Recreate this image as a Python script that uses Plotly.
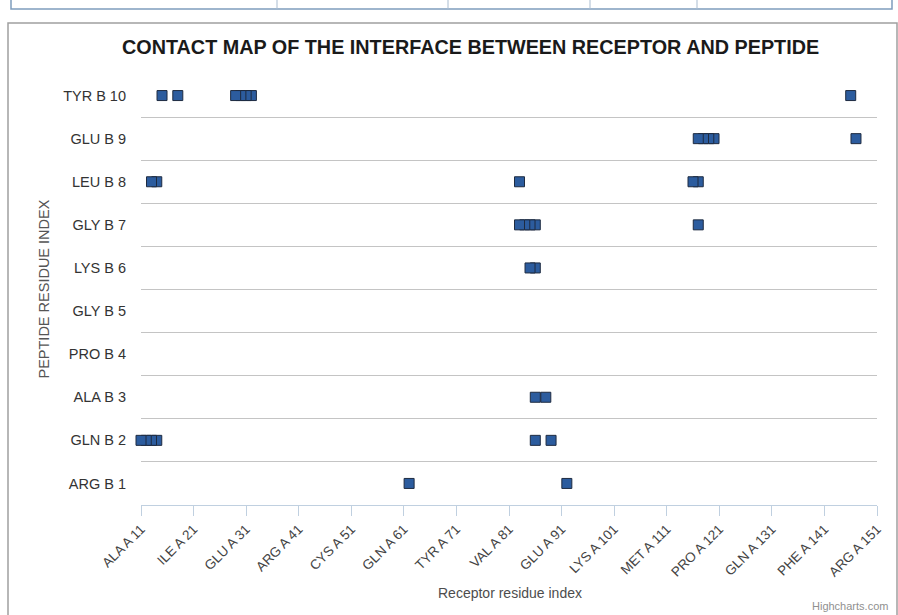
import plotly.graph_objects as go

# Peptide residues (rows, bottom to top)
peptide_labels = ["ARG B 1", "GLN B 2", "ALA B 3", "PRO B 4", "GLY B 5",
                  "LYS B 6", "GLY B 7", "LEU B 8", "GLU B 9", "TYR B 10"]

# Receptor axis ticks
receptor_tick_nums = [11, 21, 31, 41, 51, 61, 71, 81, 91, 101, 111, 121, 131, 141, 151]
receptor_tick_labels = ["ALA A 11", "ILE A 21", "GLU A 31", "ARG A 41", "CYS A 51",
                        "GLN A 61", "TYR A 71", "VAL A 81", "GLU A 91", "LYS A 101",
                        "MET A 111", "PRO A 121", "GLN A 131", "PHE A 141", "ARG A 151"]

# Receptor residues in contact with each peptide residue
contacts_arg_b1 = [62, 92]
contacts_gln_b2 = [11, 12, 13, 14, 86, 89]
contacts_ala_b3 = [86, 88]
contacts_pro_b4 = []
contacts_gly_b5 = []
contacts_lys_b6 = [85, 86]
contacts_gly_b7 = [83, 84, 85, 86, 117]
contacts_leu_b8 = [13, 14, 83, 116, 117]
contacts_glu_b9 = [117, 118, 119, 120, 147]
contacts_tyr_b10 = [15, 18, 29, 30, 31, 32, 146]

contact_rows = [contacts_arg_b1, contacts_gln_b2, contacts_ala_b3, contacts_pro_b4,
                contacts_gly_b5, contacts_lys_b6, contacts_gly_b7, contacts_leu_b8,
                contacts_glu_b9, contacts_tyr_b10]

xs, ys = [], []
for row_idx, residues in enumerate(contact_rows):
    for r in sorted(residues, reverse=True):
        xs.append(r)
        ys.append(row_idx + 1)

# Page geometry (pixels)
W, H = 898, 615
PL, PR, PT, PB = 141, 877, 74, 505
pw, ph = PR - PL, PB - PT


def px(x):
    return (x - PL) / pw


def py(y):
    return (PB - y) / ph


FONT = "Liberation Sans, Arial, sans-serif"

fig = go.Figure()
fig.add_trace(go.Scatter(
    x=xs, y=ys, mode="markers",
    marker=dict(symbol="square", size=10, color="#2C5C9E",
                line=dict(color="#1E2B40", width=1)),
    cliponaxis=False, showlegend=False,
    hovertemplate="%{x}<extra></extra>",
))

fig.update_layout(
    width=W, height=H,
    margin=dict(l=PL, r=W - PR, t=PT, b=H - PB, pad=0),
    paper_bgcolor="white", plot_bgcolor="white",
    font=dict(family=FONT),
    xaxis=dict(
        range=[11, 151], tickmode="array", tickvals=receptor_tick_nums,
        ticktext=receptor_tick_labels, tickangle=-45,
        ticks="outside", ticklen=10, tickcolor="#C0D0E0", tickwidth=1,
        showline=True, linecolor="#C0D0E0", linewidth=1,
        showgrid=False, zeroline=False,
        tickfont=dict(size=13.5, color="#444444", family=FONT),
    ),
    yaxis=dict(
        range=[0.5, 10.5], tickmode="array", tickvals=list(range(1, 11)),
        ticktext=peptide_labels, ticks="", ticklabelstandoff=14,
        showgrid=False, zeroline=False, showline=False,
        minor=dict(tick0=0.5, dtick=1, showgrid=True, gridcolor="#C4C4C4", gridwidth=1),
        tickfont=dict(size=14.5, color="#333333", family=FONT),
    ),
)

annotations = [
    dict(text="<b>CONTACT MAP OF THE INTERFACE BETWEEN RECEPTOR AND PEPTIDE</b>",
         x=px(470.5), y=py(47), xanchor="center", yanchor="middle",
         font=dict(size=19.8, color="#1a1a1a", family=FONT)),
    dict(text="PEPTIDE RESIDUE INDEX", x=px(43), y=py(289.5), textangle=-90,
         xanchor="center", yanchor="middle",
         font=dict(size=14.5, color="#555555", family=FONT)),
    dict(text="Receptor residue index", x=px(509.5), y=py(593),
         xanchor="center", yanchor="middle",
         font=dict(size=14, color="#4d4d4d", family=FONT)),
    dict(text="Highcharts.com", x=px(890), y=py(606), xanchor="right", yanchor="middle",
         font=dict(size=11, color="#909090", family=FONT)),
]
for a in annotations:
    a.update(xref="paper", yref="paper", showarrow=False)
fig.update_layout(annotations=annotations)

shapes = [
    # chart container border
    dict(type="rect", x0=px(8), x1=px(897), y0=py(640), y1=py(23),
         line=dict(color="#A0A0A0", width=1.5), fillcolor="rgba(0,0,0,0)"),
    # toolbar strip along the top edge
    dict(type="rect", x0=px(11), x1=px(892), y0=py(9), y1=py(-10),
         line=dict(color="#7F9DBD", width=1.5), fillcolor="rgba(0,0,0,0)"),
]
for xd in [277, 448, 590, 697]:
    shapes.append(dict(type="line", x0=px(xd), x1=px(xd), y0=py(9), y1=py(0),
                       line=dict(color="#A9BCD0", width=1)))
for s in shapes:
    s.update(xref="paper", yref="paper", layer="below")
fig.update_layout(shapes=shapes)

fig.write_html("out.html")
